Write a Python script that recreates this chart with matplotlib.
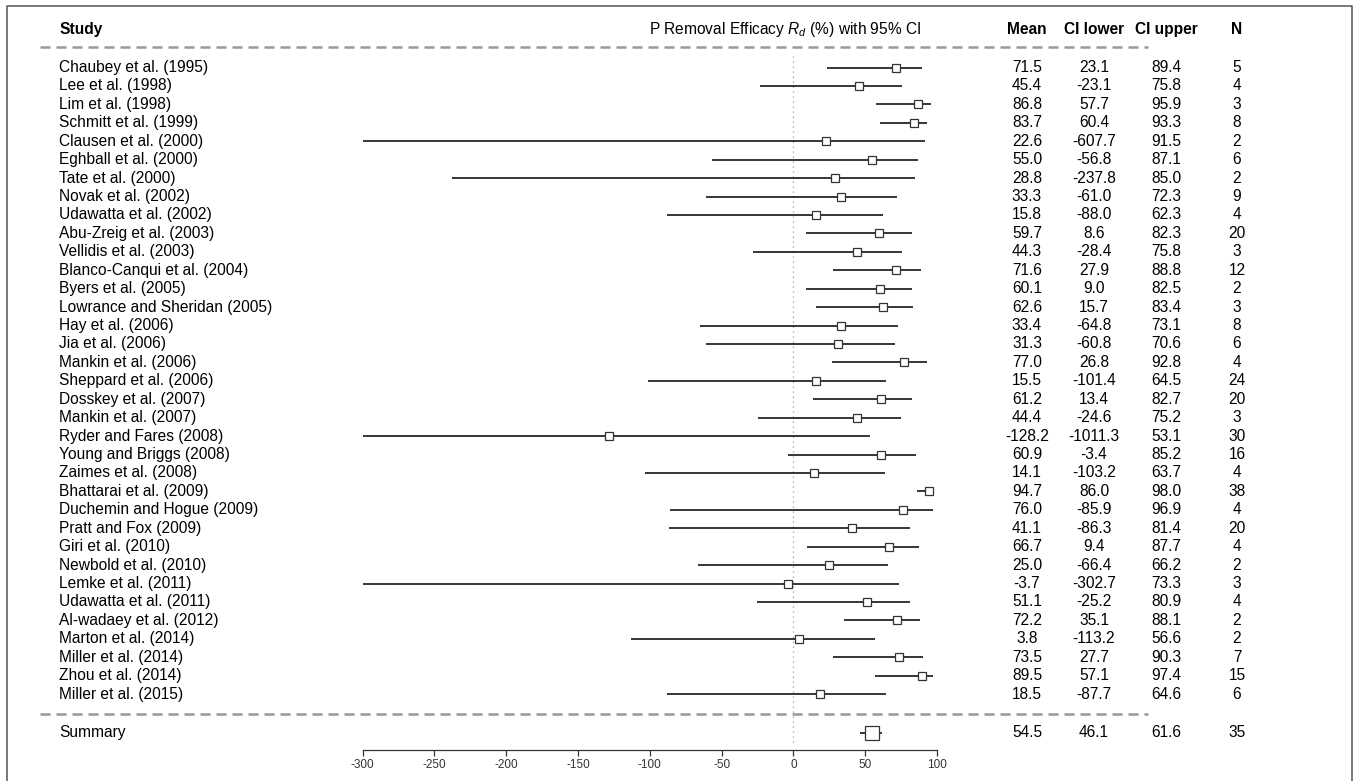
import matplotlib.pyplot as plt
import matplotlib.transforms as mtransforms
from matplotlib.lines import Line2D
import numpy as np

plt.rcParams['font.family'] = ['Liberation Sans', 'DejaVu Sans']
plt.rcParams['mathtext.fontset'] = 'custom'
plt.rcParams['mathtext.rm'] = 'Liberation Sans'
plt.rcParams['mathtext.it'] = 'Liberation Sans:italic'

studies = ['Chaubey et al. (1995)', 'Lee et al. (1998)', 'Lim et al. (1998)',
           'Schmitt et al. (1999)', 'Clausen et al. (2000)', 'Eghball et al. (2000)',
           'Tate et al. (2000)', 'Novak et al. (2002)', 'Udawatta et al. (2002)',
           'Abu-Zreig et al. (2003)', 'Vellidis et al. (2003)', 'Blanco-Canqui et al. (2004)',
           'Byers et al. (2005)', 'Lowrance and Sheridan (2005)', 'Hay et al. (2006)',
           'Jia et al. (2006)', 'Mankin et al. (2006)', 'Sheppard et al. (2006)',
           'Dosskey et al. (2007)', 'Mankin et al. (2007)', 'Ryder and Fares (2008)',
           'Young and Briggs (2008)', 'Zaimes et al. (2008)', 'Bhattarai et al. (2009)',
           'Duchemin and Hogue (2009)', 'Pratt and Fox (2009)', 'Giri et al. (2010)',
           'Newbold et al. (2010)', 'Lemke et al. (2011)', 'Udawatta et al. (2011)',
           'Al-wadaey et al. (2012)', 'Marton et al. (2014)', 'Miller et al. (2014)',
           'Zhou et al. (2014)', 'Miller et al. (2015)']
mean = [71.5, 45.4, 86.8, 83.7, 22.6, 55.0, 28.8, 33.3, 15.8, 59.7, 44.3, 71.6,
        60.1, 62.6, 33.4, 31.3, 77.0, 15.5, 61.2, 44.4, -128.2, 60.9, 14.1, 94.7,
        76.0, 41.1, 66.7, 25.0, -3.7, 51.1, 72.2, 3.8, 73.5, 89.5, 18.5]
ci_lower = [23.1, -23.1, 57.7, 60.4, -607.7, -56.8, -237.8, -61.0, -88.0, 8.6, -28.4,
            27.9, 9.0, 15.7, -64.8, -60.8, 26.8, -101.4, 13.4, -24.6, -1011.3, -3.4,
            -103.2, 86.0, -85.9, -86.3, 9.4, -66.4, -302.7, -25.2, 35.1, -113.2, 27.7,
            57.1, -87.7]
ci_upper = [89.4, 75.8, 95.9, 93.3, 91.5, 87.1, 85.0, 72.3, 62.3, 82.3, 75.8, 88.8,
            82.5, 83.4, 73.1, 70.6, 92.8, 64.5, 82.7, 75.2, 53.1, 85.2, 63.7, 98.0,
            96.9, 81.4, 87.7, 66.2, 73.3, 80.9, 88.1, 56.6, 90.3, 97.4, 64.6]
n_obs = [5, 4, 3, 8, 2, 6, 2, 9, 4, 20, 3, 12, 2, 3, 8, 6, 4, 24, 20, 3, 30, 16, 4,
         38, 4, 20, 4, 2, 3, 4, 2, 2, 7, 15, 6]

summary_label = 'Summary'
summary_mean, summary_lower, summary_upper, summary_n = 54.5, 46.1, 61.6, 35

xticks = [-300, -250, -200, -150, -100, -50, 0, 50, 100]

# layout in pixels
W, H = 1357, 781
px_lo, px_hi = 362.5, 937.0      # pixel x of -300 and 100
row0, drow = 67.5, 18.43           # pixel y of first row, row spacing

fig = plt.figure(figsize=(W / 100, H / 100), dpi=100)
ax = fig.add_axes([0, 0, 1, 1])
sc = (px_hi - px_lo) / 400.0
ax.set_xlim(-300 - px_lo / sc, -300 + (W - px_lo) / sc)
ax.set_ylim((H - row0) / drow, -row0 / drow)

blend = mtransforms.blended_transform_factory(fig.transFigure, ax.transData)
def fx(px):
    return px / W

rows = np.arange(len(studies))
row_head = -2.07
row_dash_top = -1.1
row_dash_bot = 35.07
row_sum = 36.1
row_axis = 37.05

# zero line
ax.plot([0, 0], [-0.65, 36.8], color='#999999', lw=0.9, ls=(0, (1, 3)), zorder=1)

# confidence intervals, clipped at the axis minimum
lo = np.maximum(np.array(ci_lower), xticks[0])
ax.hlines(rows, lo, ci_upper, color='black', lw=1.1, zorder=2)
ax.plot(mean, rows, 's', ms=6.3, mfc='white', mec='#333333', mew=0.9, zorder=3)

ax.hlines([row_sum], [summary_lower], [summary_upper], color='black', lw=1.1, zorder=2)
ax.plot([summary_mean], [row_sum], 's', ms=10, mfc='white', mec='#333333', mew=0.9, zorder=3)

# dashed separators
for r in (row_dash_top, row_dash_bot):
    ax.plot([fx(40), fx(1148)], [r, r], transform=blend, color='#999999', lw=1.8,
            dashes=(4, 2.4), zorder=1)

# columns
col_study = fx(59)
col_mean, col_lo, col_hi, col_n = fx(1027), fx(1094), fx(1166), fx(1237)
fs = 11.2
ax.text(col_study, row_head, 'Study', transform=blend, fontsize=fs, fontweight='bold',
        va='center', ha='left')
ax.text(fx(785), row_head, 'P Removal Efficacy $R_d$ (%) with 95% CI', transform=blend,
        fontsize=fs, va='center', ha='center')
for c, t in zip((col_mean, col_lo, col_hi, col_n), ('Mean', 'CI lower', 'CI upper', 'N')):
    ax.text(c, row_head, t, transform=blend, fontsize=fs, fontweight='bold',
            va='center', ha='center')

for r, s, m, l, u, n in zip(rows, studies, mean, ci_lower, ci_upper, n_obs):
    ax.text(col_study, r, s, transform=blend, fontsize=fs, va='center', ha='left')
    ax.text(col_mean, r, f'{m:.1f}', transform=blend, fontsize=fs, va='center', ha='center')
    ax.text(col_lo, r, f'{l:.1f}', transform=blend, fontsize=fs, va='center', ha='center')
    ax.text(col_hi, r, f'{u:.1f}', transform=blend, fontsize=fs, va='center', ha='center')
    ax.text(col_n, r, f'{n}', transform=blend, fontsize=fs, va='center', ha='center')

ax.text(col_study, row_sum, summary_label, transform=blend, fontsize=fs, va='center', ha='left')
ax.text(col_mean, row_sum, f'{summary_mean:.1f}', transform=blend, fontsize=fs, va='center', ha='center')
ax.text(col_lo, row_sum, f'{summary_lower:.1f}', transform=blend, fontsize=fs, va='center', ha='center')
ax.text(col_hi, row_sum, f'{summary_upper:.1f}', transform=blend, fontsize=fs, va='center', ha='center')
ax.text(col_n, row_sum, f'{summary_n}', transform=blend, fontsize=fs, va='center', ha='center')

# x axis
for side in ('top', 'left', 'right'):
    ax.spines[side].set_visible(False)
ax.spines['bottom'].set_position(('data', row_axis))
ax.spines['bottom'].set_bounds(xticks[0], xticks[-1])
ax.spines['bottom'].set_color('#333333')
ax.spines['bottom'].set_linewidth(0.9)
ax.set_xticks(xticks)
ax.set_xticklabels([str(t) for t in xticks])
ax.tick_params(axis='x', direction='out', length=4, width=0.9, colors='#333333',
               labelsize=8.5, pad=2)
ax.set_yticks([])
ax.patch.set_visible(False)

# outer frame (open at the bottom)
fig.add_artist(Line2D([fx(7), fx(7), fx(1352), fx(1352)], [0, 1 - 6 / H, 1 - 6 / H, 0],
                      transform=fig.transFigure, color='#555555', lw=1.1))

fig.savefig('out.png', dpi=100)
